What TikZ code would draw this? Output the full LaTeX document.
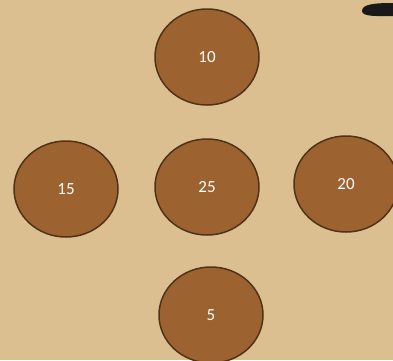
\documentclass[tikz,border=0pt]{standalone}
\usepackage{fontspec}
\setmainfont{Carlito}
\usetikzlibrary{shapes.geometric}
\definecolor{bg}{RGB}{219,191,145}
\definecolor{disc}{RGB}{156,99,48}
\definecolor{rim}{RGB}{80,50,25}
\begin{document}
\begin{tikzpicture}[x=1pt,y=-1pt,
  disk/.style={ellipse,draw=rim,line width=1.5pt,fill=disc,minimum width=104pt,minimum height=96pt,inner sep=0pt,text=white,font=\fontsize{17}{19}\selectfont}]
\useasboundingbox[fill=bg] (0,0) rectangle (393,360);
\node[disk] (n10) at (207,57) {10};
\node[disk] (n15) at (66,189) {15};
\node[disk] (n25) at (207,187) {25};
\node[disk] (n20) at (346,184) {20};
\node[disk] (n5) at (211,315) {5};
\fill[black!90] (362,11) .. controls (362,4) and (375,3) .. (393,3) -- (393,16) .. controls (378,16) and (362,17) .. (362,11) -- cycle;
\end{tikzpicture}
\end{document}
